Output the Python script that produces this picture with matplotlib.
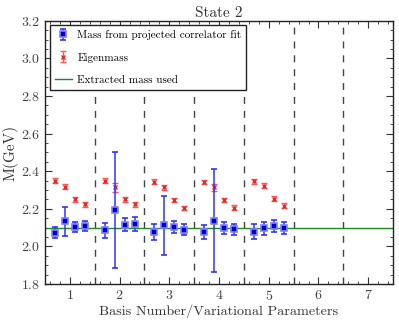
import matplotlib
matplotlib.use('Agg')
import matplotlib.pyplot as plt
from matplotlib.ticker import MultipleLocator

plt.rcParams['font.family'] = 'serif'
plt.rcParams['font.serif'] = ['cmr10', 'DejaVu Serif']
plt.rcParams['mathtext.fontset'] = 'cm'
plt.rcParams['axes.formatter.use_mathtext'] = True

offsets = [-0.3, -0.1, 0.1, 0.3]
basis = [1, 2, 3, 4, 5]

# projected correlator fit masses (per basis, 4 variational params)
fit_mass = [
    [2.073, 2.134, 2.105, 2.109],
    [2.086, 2.193, 2.116, 2.120],
    [2.077, 2.112, 2.102, 2.089],
    [2.075, 2.137, 2.100, 2.091],
    [2.079, 2.096, 2.109, 2.098],
]
fit_err = [
    [0.030, 0.077, 0.026, 0.027],
    [0.040, 0.310, 0.035, 0.035],
    [0.040, 0.159, 0.031, 0.030],
    [0.037, 0.275, 0.032, 0.030],
    [0.040, 0.034, 0.034, 0.030],
]
eigen_mass = [
    [2.350, 2.318, 2.250, 2.225],
    [2.350, 2.314, 2.250, 2.225],
    [2.345, 2.314, 2.246, 2.205],
    [2.344, 2.314, 2.246, 2.206],
    [2.346, 2.323, 2.255, 2.216],
]
eigen_err = [
    [0.012, 0.012, 0.013, 0.014],
    [0.012, 0.022, 0.013, 0.013],
    [0.012, 0.012, 0.012, 0.012],
    [0.012, 0.020, 0.012, 0.012],
    [0.012, 0.012, 0.013, 0.013],
]
extracted_mass = 2.10
separators = [1.5, 2.5, 3.5, 4.5, 5.5, 6.5]

fig = plt.figure(figsize=(3.99, 3.21), dpi=100)
ax = fig.add_axes([0.113, 0.115, 0.872, 0.82])

xs, fm, fe, em, ee = [], [], [], [], []
for i, b in enumerate(basis):
    for j, o in enumerate(offsets):
        xs.append(b + o)
        fm.append(fit_mass[i][j])
        fe.append(fit_err[i][j])
        em.append(eigen_mass[i][j])
        ee.append(eigen_err[i][j])

for x in separators:
    ax.axvline(x, color='#444444', ls=(0, (5, 5)), lw=1.0, zorder=1)

ax.axhline(extracted_mass, color='#1a8a1a', lw=1.0, zorder=2,
           label='Extracted mass used')

ax.errorbar(xs, fm, yerr=fe, fmt='s', color='#0000cc', ms=4.5,
            mec='#8080ff', mew=1.2, ecolor='#3333ff', elinewidth=1.1,
            capsize=2.5, capthick=1.1, zorder=4,
            label='Mass from projected correlator fit')
ax.errorbar(xs, em, yerr=ee, fmt='x', color='#ee2222', ms=3.5,
            mew=1.0, ecolor='#ff5555', elinewidth=1.0, capsize=2.2,
            capthick=1.0, zorder=3, label='Eigenmass')

ax.set_xlim(0.5, 7.5)
ax.set_ylim(1.8, 3.2)
ax.xaxis.set_major_locator(MultipleLocator(1))
ax.xaxis.set_minor_locator(MultipleLocator(0.2))
ax.yaxis.set_major_locator(MultipleLocator(0.2))
ax.yaxis.set_minor_locator(MultipleLocator(0.05))
ax.tick_params(which='both', direction='in', top=True, right=True,
               labelsize=10, colors='#333333', labelcolor='#444444')
ax.tick_params(which='major', length=5)
ax.tick_params(which='minor', length=2.5)
for s in ax.spines.values():
    s.set_color('#222222')
    s.set_linewidth(1.0)

ax.set_xlabel('Basis Number/Variational Parameters', fontsize=10.2,
              color='#333333', labelpad=1)
ax.set_ylabel('M(GeV)', fontsize=11, color='#333333', labelpad=2)
ax.set_title('State 2', fontsize=11, color='#333333', pad=3)

h, l = ax.get_legend_handles_labels()
order = [1, 2, 0]
leg = ax.legend([h[k] for k in order], [l[k] for k in order],
                loc='upper left', fontsize=8, fancybox=False,
                framealpha=1, edgecolor='#222222', borderpad=0.45,
                labelspacing=1.1, handlelength=1.6, handletextpad=0.45,
                borderaxespad=0.4)
leg.get_frame().set_linewidth(1.0)

fig.savefig('out.png', dpi=100)
